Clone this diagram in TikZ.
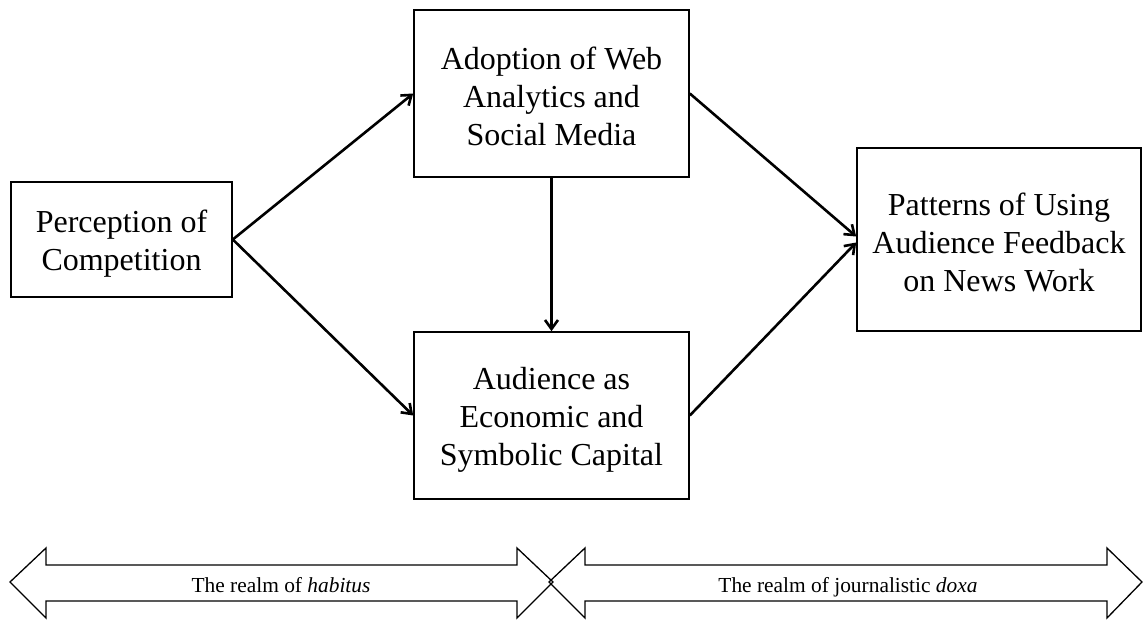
\documentclass[tikz,border=0pt]{standalone}
\usepackage{fontspec}
\setmainfont{Liberation Serif}
\usetikzlibrary{arrows.meta}
% uniform line box for the multi-line labels
\newcommand\boxstrut{\rule[-3pt]{0pt}{33pt}}
\begin{document}
\begin{tikzpicture}[x=1pt,y=-1pt,
  box/.style={draw, line width=1.6pt, align=center, inner sep=0pt,
    font=\fontsize{32}{38}\selectfont},
  link/.style={line width=2.6pt,
    -{Straight Barb[length=9pt,width=13pt,line width=2.6pt]}},
  realm/.style={draw, line width=1.3pt, line join=miter},
  realmtext/.style={anchor=base, font=\fontsize{21.4}{25}\selectfont}]
\useasboundingbox (0,0) rectangle (1144,621);

% concept boxes
\node[box, minimum width=221pt, minimum height=115pt] (perc) at (121.5,239.5)
  {\boxstrut Perception of\\\boxstrut Competition};
\node[box, minimum width=275pt, minimum height=167pt] (adopt) at (551.5,93.5)
  {\boxstrut Adoption of Web\\\boxstrut Analytics and\\\boxstrut Social Media};
\node[box, minimum width=275pt, minimum height=167pt] (aud) at (551.5,415.5)
  {\boxstrut Audience as\\\boxstrut Economic and\\\boxstrut Symbolic Capital};
\node[box, minimum width=284pt, minimum height=183pt] (pat) at (999,239.5)
  {\boxstrut Patterns of Using\\\boxstrut Audience Feedback\\\boxstrut on News Work};

% causal links
\draw[link] (perc.east) -- (adopt.west);
\draw[link] (perc.east) -- (aud.west);
\draw[link] (adopt.south) -- (aud.north);
\draw[link] (adopt.east) -- ([yshift=3pt]pat.west);
\draw[link] (aud.east) -- ([yshift=-3pt]pat.west);

% the two realms as block double arrows
\draw[realm] (10,582) -- (46,548) -- (46,565) -- (517,565) -- (517,548)
  -- (553,582) -- (517,618) -- (517,601) -- (46,601) -- (46,618) -- cycle;
\draw[realm] (549,582) -- (585,548) -- (585,565) -- (1107,565) -- (1107,548)
  -- (1142,582) -- (1107,618) -- (1107,601) -- (585,601) -- (585,618) -- cycle;
\node[realmtext] (habitus) at (281,592) {The realm of \textit{habitus}};
\node[realmtext] (doxa) at (848,592) {The realm of journalistic \textit{doxa}};
\end{tikzpicture}
\end{document}
